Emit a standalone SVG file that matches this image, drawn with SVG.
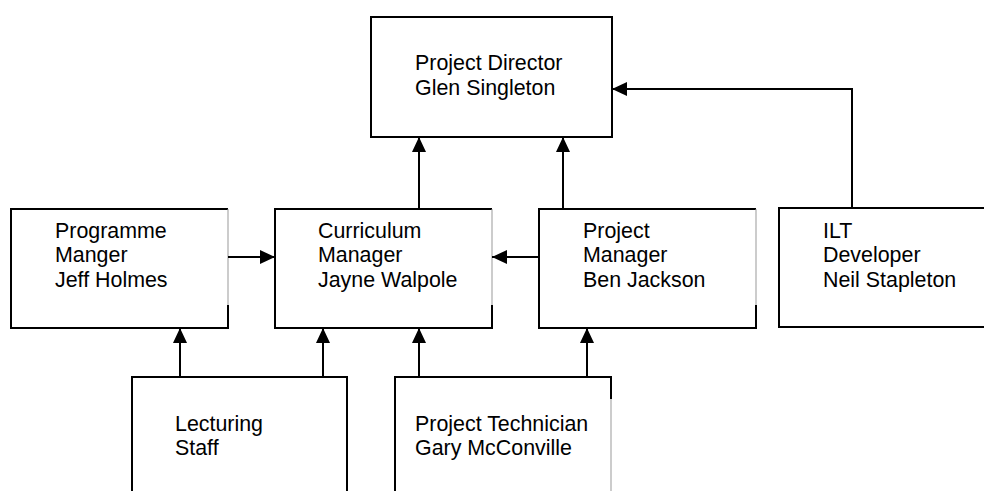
<svg xmlns="http://www.w3.org/2000/svg" width="984" height="491" viewBox="0 0 984 491">
<style>
.box{fill:#fff;stroke:#000;stroke-width:2}
.edge{fill:none;stroke:#000;stroke-width:2}
.faint{fill:none;stroke:#999;stroke-width:1}
.lbl{font-family:"Liberation Sans",Arial,sans-serif;font-size:21.4px;fill:#000}
.conn{fill:none;stroke:#000;stroke-width:2;marker-end:url(#ah)}
</style>
<defs>
<marker id="ah" viewBox="0 0 15 14" refX="15" refY="7" markerWidth="15" markerHeight="14" orient="auto" markerUnits="userSpaceOnUse">
<path d="M0,0 L15,7 L0,14 z" fill="#000"/>
</marker>
</defs>
<rect width="984" height="491" fill="#fff"/>
<g id="director">
<rect class="box" x="371" y="17" width="241" height="120"/>
<text class="lbl" x="415" y="70">Project Director</text>
<text class="lbl" x="415" y="95">Glen Singleton</text>
</g>
<g id="programme">
<path class="edge" d="M228,305 V328 H11 V209 H228"/>
<path class="faint" d="M228,209 V305"/>
<text class="lbl" x="55" y="238">Programme</text>
<text class="lbl" x="55" y="262">Manger</text>
<text class="lbl" x="55" y="287">Jeff Holmes</text>
</g>
<g id="curriculum">
<path class="edge" d="M492,305 V328 H275 V209 H492"/>
<path class="faint" d="M492,209 V305"/>
<text class="lbl" x="318" y="238">Curriculum</text>
<text class="lbl" x="318" y="262">Manager</text>
<text class="lbl" x="318" y="287">Jayne Walpole</text>
</g>
<g id="projectmanager">
<path class="edge" d="M756,305 V328 H539 V209 H756"/>
<path class="faint" d="M756,209 V305"/>
<text class="lbl" x="583" y="238">Project</text>
<text class="lbl" x="583" y="262">Manager</text>
<text class="lbl" x="583" y="287">Ben Jackson</text>
</g>
<g id="ilt">
<path class="edge" d="M990,208 H779 V327 H990"/>
<text class="lbl" x="823" y="238">ILT</text>
<text class="lbl" x="823" y="262">Developer</text>
<text class="lbl" x="823" y="287">Neil Stapleton</text>
</g>
<g id="lecturing">
<path class="edge" d="M132,495 V377 H347 V495"/>
<text class="lbl" x="175" y="431">Lecturing</text>
<text class="lbl" x="175" y="455">Staff</text>
</g>
<g id="technician">
<path class="edge" d="M395,495 V377 H611 V399"/>
<path class="faint" d="M611,399 V491"/>
<text class="lbl" x="415" y="431">Project Technician</text>
<text class="lbl" x="415" y="455">Gary McConville</text>
</g>
<g id="connectors">
<path class="conn" d="M419,209 V137"/>
<path class="conn" d="M563,209 V137"/>
<path class="conn" d="M852,208 V89 H612"/>
<path class="conn" d="M228,257 H275"/>
<path class="conn" d="M539,257 H492"/>
<path class="conn" d="M180,377 V328"/>
<path class="conn" d="M323,377 V328"/>
<path class="conn" d="M419,377 V328"/>
<path class="conn" d="M587,377 V328"/>
</g>
</svg>
